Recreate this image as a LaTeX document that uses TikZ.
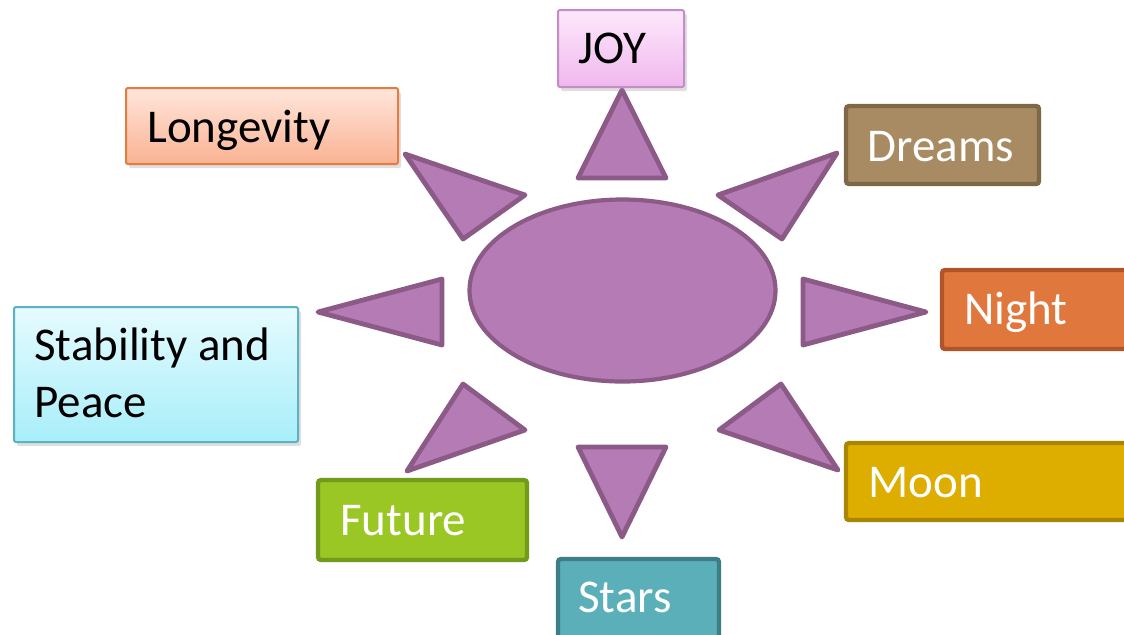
\documentclass[tikz,border=0pt]{standalone}
\usepackage{fontspec}
\setmainfont{Carlito}
\usetikzlibrary{shadows}
\definecolor{purfill}{HTML}{B57BB4}
\definecolor{purline}{HTML}{8B5A87}
\definecolor{joytop}{HTML}{FDE8FB}
\definecolor{joybot}{HTML}{F0B8EE}
\definecolor{joyline}{HTML}{C58CC8}
\definecolor{lontop}{HTML}{FFE6DB}
\definecolor{lonbot}{HTML}{FAB293}
\definecolor{lonline}{HTML}{E27D3F}
\definecolor{stabtop}{HTML}{E5FBFF}
\definecolor{stabbot}{HTML}{A8EEF9}
\definecolor{stabline}{HTML}{5AB3BF}
\definecolor{dreamfill}{HTML}{A88B62}
\definecolor{dreamline}{HTML}{7F6846}
\definecolor{nightfill}{HTML}{E0783D}
\definecolor{nightline}{HTML}{B0552A}
\definecolor{futfill}{HTML}{9AC724}
\definecolor{futline}{HTML}{729A1B}
\definecolor{starfill}{HTML}{5AAFB8}
\definecolor{starline}{HTML}{3D7E86}
\definecolor{moonfill}{HTML}{DDAE00}
\definecolor{moonline}{HTML}{A98500}
\tikzset{
  ray/.style={fill=purfill, draw=purline, line width=2.4pt, line join=round},
  sunbody/.style={fill=purfill, draw=purline, line width=2.1pt},
  lightbox/.style={line width=1pt, rounded corners=1pt,
    drop shadow={opacity=0.25, shadow xshift=1.5pt, shadow yshift=-2pt}},
  darkbox/.style={line width=2.2pt, rounded corners=1.5pt},
  btxt/.style={anchor=base west, inner sep=0pt, font=\fontsize{23.5}{28.5}\selectfont, text=black},
  wtxt/.style={btxt, text=white}
}
\begin{document}
\begin{tikzpicture}[x=0.5pt, y=-0.5pt]
\useasboundingbox (0,0) rectangle (1124,634);
\clip (0,0) rectangle (1124,634);
% sun
\draw[sunbody] (622.5,290.5) ellipse [x radius=153, y radius=91];
\draw[ray] (622,90) -- (666,178) -- (578,178) -- cycle;
\draw[ray] (405,154) -- (525,195) -- (463,239) -- cycle;
\draw[ray] (837,153) -- (718,195) -- (782,239) -- cycle;
\draw[ray] (318,312) -- (442,279) -- (442,345) -- cycle;
\draw[ray] (926,312) -- (803,279) -- (803,345) -- cycle;
\draw[ray] (463,384) -- (525,430) -- (407,471) -- cycle;
\draw[ray] (781,384) -- (719,430) -- (838,470) -- cycle;
\draw[ray] (578,447) -- (666,447) -- (622,537) -- cycle;
% boxes
\shade[lightbox, top color=joytop, bottom color=joybot, draw=joyline] (558,10) rectangle (684,87);
\node[btxt] (joy) at (578,63) {JOY};
\shade[lightbox, top color=lontop, bottom color=lonbot, draw=lonline] (126,88) rectangle (398,164);
\node[btxt] (longevity) at (147,142) {Longevity};
\shade[lightbox, top color=stabtop, bottom color=stabbot, draw=stabline] (14,307) rectangle (298,442);
\node[btxt] (stab1) at (34,360) {Stability and};
\node[btxt] (stab2) at (34,417) {Peace};
\draw[darkbox, fill=dreamfill, draw=dreamline] (846,106) rectangle (1039,184);
\node[wtxt] (dreams) at (867,161) {Dreams};
\draw[darkbox, fill=nightfill, draw=nightline] (942,270) rectangle (1140,349);
\node[wtxt] (night) at (964,324) {Night};
\draw[darkbox, fill=futfill, draw=futline] (318,480) rectangle (527,560);
\node[wtxt] (future) at (340,535) {Future};
\draw[darkbox, fill=starfill, draw=starline] (558,559) rectangle (719,650);
\node[wtxt] (stars) at (578,612) {Stars};
\draw[darkbox, fill=moonfill, draw=moonline] (846,443) rectangle (1140,520);
\node[wtxt] (moon) at (868,497) {Moon};
\end{tikzpicture}
\end{document}
